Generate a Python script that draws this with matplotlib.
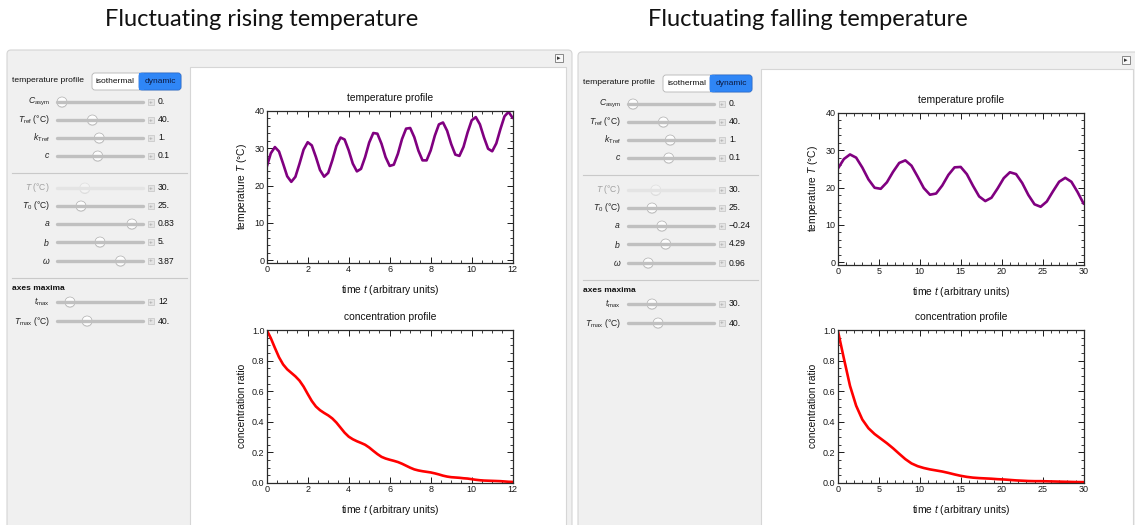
import numpy as np
import matplotlib
matplotlib.use("Agg")
import matplotlib.pyplot as plt
from matplotlib.patches import FancyBboxPatch, Rectangle, Circle
from matplotlib.ticker import MultipleLocator

W, H = 1135, 525

plt.rcParams["font.family"] = ["Liberation Sans", "DejaVu Sans"]
plt.rcParams["mathtext.fontset"] = "custom"
plt.rcParams["mathtext.rm"] = "Liberation Sans"
plt.rcParams["mathtext.it"] = "Liberation Sans:italic"
plt.rcParams["mathtext.bf"] = "Liberation Sans:bold"

# ---- data ----
panel_titles = ["Fluctuating rising temperature", "Fluctuating falling temperature"]

# rising case: t = 0 ... 12, step 0.2
t_rise = np.linspace(0, 12, 61)
temp_rise = [25.0, 28.66, 30.33, 29.15, 25.89, 22.50, 21.01, 22.36, 25.87, 29.65,
             31.63, 30.78, 27.67, 24.18, 22.39, 23.41, 26.75, 30.61, 32.88, 32.36,
             29.45, 25.89, 23.81, 24.49, 27.63, 31.55, 34.10, 33.92, 31.22, 27.62,
             25.27, 25.61, 28.53, 32.47, 35.27, 35.44, 32.97, 29.37, 26.77, 26.76,
             29.44, 33.37, 36.41, 36.92, 34.71, 31.13, 28.31, 27.96, 30.37, 34.26,
             37.51, 38.36, 36.42, 32.90, 29.88, 29.20, 31.32, 35.14, 38.58, 39.76, 38.12]
conc_rise = [1.0, 0.947, 0.883, 0.822, 0.775, 0.743, 0.720, 0.697, 0.669, 0.630,
             0.582, 0.536, 0.500, 0.476, 0.458, 0.442, 0.422, 0.395, 0.362, 0.329,
             0.303, 0.286, 0.273, 0.262, 0.250, 0.232, 0.210, 0.189, 0.171, 0.160,
             0.152, 0.145, 0.137, 0.126, 0.113, 0.100, 0.089, 0.082, 0.077, 0.073,
             0.069, 0.063, 0.056, 0.048, 0.042, 0.038, 0.036, 0.034, 0.031, 0.029,
             0.025, 0.021, 0.018, 0.016, 0.015, 0.014, 0.013, 0.012, 0.010, 0.008, 0.007]

# falling case: t = 0 ... 30, step 0.75
t_fall = np.linspace(0, 30, 41)
temp_fall = [25.0, 27.65, 28.89, 28.03, 25.39, 22.20, 19.96, 19.68, 21.42, 24.22,
             26.61, 27.30, 25.87, 22.94, 19.87, 18.09, 18.41, 20.56, 23.41, 25.43,
             25.54, 23.60, 20.48, 17.63, 16.39, 17.28, 19.77, 22.53, 24.11, 23.62,
             21.24, 18.03, 15.52, 14.86, 16.27, 18.99, 21.56, 22.62, 21.56, 18.81, 15.65]
conc_fall = [1.0, 0.815, 0.635, 0.505, 0.415, 0.358, 0.320, 0.290, 0.260, 0.227,
             0.191, 0.156, 0.128, 0.110, 0.098, 0.089, 0.082, 0.075, 0.066, 0.056,
             0.047, 0.040, 0.035, 0.032, 0.030, 0.028, 0.025, 0.023, 0.020, 0.017,
             0.015, 0.013, 0.012, 0.012, 0.011, 0.010, 0.009, 0.008, 0.007, 0.006, 0.006]

ctrl_labels = [r"$C_{\rm asym}$", r"$T_{\rm ref}$ (°C)", r"$k_{\rm Tref}$", r"$c$",
               r"$T$ (°C)", r"$T_0$ (°C)", r"$a$", r"$b$", r"$\omega$",
               r"$t_{\rm max}$", r"$T_{\rm max}$ (°C)"]
ctrl_values_rise = ["0.", "40.", "1.", "0.1", "30.", "25.", "0.83", "5.", "3.87", "12", "40."]
ctrl_values_fall = ["0.", "40.", "1.", "0.1", "30.", "25.", "\u22120.24", "4.29", "0.96", "30.", "40."]
slider_rise = [0.0, 0.40, 0.49, 0.47, 0.30, 0.25, 0.92, 0.50, 0.77, 0.105, 0.33]
slider_fall = [0.0, 0.40, 0.49, 0.47, 0.30, 0.25, 0.38, 0.43, 0.20, 0.25, 0.33]

# ---- layout (pixels) ----
row_y = [52, 70, 88, 106, 138, 156, 174, 192, 211, 252, 271]
TXT = "#111111"


def frac(x, y, w, h):
    return [x / W, 1 - (y + h) / H, w / W, h / H]


def style_axes(ax, xmax, xmajor, xminor, ylim, ymajor, yminor, yfmt):
    ax.set_xlim(0, xmax)
    ax.set_ylim(*ylim)
    ax.xaxis.set_major_locator(MultipleLocator(xmajor))
    ax.xaxis.set_minor_locator(MultipleLocator(xminor))
    ax.yaxis.set_major_locator(MultipleLocator(ymajor))
    ax.yaxis.set_minor_locator(MultipleLocator(yminor))
    ax.yaxis.set_major_formatter(yfmt)
    ax.tick_params(which="both", direction="in", top=True, right=True,
                   labelsize=6.5, colors="#1a1a1a", pad=1.5)
    ax.tick_params(which="major", length=4, width=0.7)
    ax.tick_params(which="minor", length=2, width=0.6)
    for s in ax.spines.values():
        s.set_linewidth(0.9)
        s.set_color("#2a2a2a")


fig = plt.figure(figsize=(W / 100, H / 100), dpi=100)
ov = fig.add_axes([0, 0, 1, 1])
ov.set_xlim(0, W)
ov.set_ylim(H, 0)
ov.axis("off")


def draw_panel(x0, y0, pw, title, title_cx, values, sliders, t, temp, conc, tmax, tmajor, tminor):
    ov.add_patch(FancyBboxPatch((x0, y0), pw, 500, boxstyle="round,pad=0,rounding_size=4",
                                fc="#f0f0f0", ec="#d4d4d4", lw=0.8))
    ov.add_patch(Rectangle((x0 + 183, y0 + 17), pw - 189, 480, fc="white", ec="#d6d6d6", lw=0.8))
    # little options button
    ov.add_patch(Rectangle((x0 + pw - 17, y0 + 4), 8, 8, fc="#f8f8f8", ec="#777777", lw=0.6))
    ov.text(x0 + pw - 13, y0 + 8.3, "\u25b8", fontsize=5, ha="center", va="center",
            color="#333333", family="DejaVu Sans")

    ov.text(title_cx, 20, title, fontsize=17, family="Lato", ha="center", va="center", color=TXT)

    # temperature profile toggle
    ov.text(x0 + 5, y0 + 30, "temperature profile", fontsize=6.1, ha="left", va="center", color=TXT)
    ov.add_patch(FancyBboxPatch((x0 + 85, y0 + 23), 89, 17, boxstyle="round,pad=0,rounding_size=3",
                                fc="white", ec="#b5b5b5", lw=0.6))
    ov.add_patch(FancyBboxPatch((x0 + 132, y0 + 23), 42, 17, boxstyle="round,pad=0,rounding_size=3",
                                fc="#2f86f6", ec="#2a6fd6", lw=0.6))
    ov.add_patch(Rectangle((x0 + 132, y0 + 23.3), 5, 16.4, fc="#2f86f6", ec="none"))
    ov.text(x0 + 108.5, y0 + 31.5, "isothermal", fontsize=6.0, ha="center", va="center", color=TXT)
    ov.text(x0 + 153, y0 + 31.5, "dynamic", fontsize=6.0, ha="center", va="center", color="#0d1a40")

    # separators
    for sy in (y0 + 123, y0 + 228):
        ov.plot([x0 + 5, x0 + 180], [sy, sy], color="#c9c9c9", lw=0.8)
    ov.text(x0 + 5, y0 + 238, "axes maxima", fontsize=6.0, fontweight="bold", ha="left", va="center",
            color=TXT)

    for i, (lab, val, f) in enumerate(zip(ctrl_labels, values, sliders)):
        ry = y0 + row_y[i]
        faded = i == 4
        tc = "#a0a0a0" if faded else "#222222"
        ov.text(x0 + 43, ry, lab, fontsize=6.2, ha="right", va="center", color=tc)
        ov.plot([x0 + 50, x0 + 136], [ry, ry], color="#e4e4e4" if faded else "#c0c0c0",
                lw=2.4, solid_capstyle="round")
        cx = x0 + 55 + f * 76
        ov.add_patch(Circle((cx, ry + 0.6), 5.4, fc="#d0d0d0", ec="none", alpha=0.6))
        ov.add_patch(Circle((cx, ry), 5, fc="#fdfdfd" if not faded else "#f4f4f4",
                            ec="#e0e0e0" if faded else "#b0b0b0", lw=0.5))
        ov.add_patch(Rectangle((x0 + 140.5, ry - 3), 6, 6, fc="#e4e4e4", ec="#c4c4c4", lw=0.5))
        ov.text(x0 + 143.5, ry, "+", fontsize=4.5, ha="center", va="center", color="#9a9a9a")
        ov.text(x0 + 151, ry, val, fontsize=6.2, ha="left", va="center", color=TXT)

    # plots
    ax_l = x0 + 259.7
    ax_w = 246
    ax_t = fig.add_axes(frac(ax_l, y0 + 61, ax_w, 152))
    ax_t.plot(t, temp, color="#800080", lw=1.9, solid_joinstyle="round", solid_capstyle="round")
    style_axes(ax_t, tmax, tmajor, tminor, (-0.75, 40), 10, 2, "{x:.0f}")
    ax_c = fig.add_axes(frac(ax_l, 330, ax_w, 153))
    ax_c.plot(t, conc, color="#ff0000", lw=1.9, solid_joinstyle="round", solid_capstyle="round")
    style_axes(ax_c, tmax, tmajor, tminor, (0, 1), 0.2, 0.05, "{x:.1f}")

    cx = ax_l + ax_w / 2
    ov.text(cx, y0 + 48, "temperature profile", fontsize=7.4, ha="center", va="center", color=TXT)
    ov.text(cx, y0 + 240, "time $t$ (arbitrary units)", fontsize=7.4, ha="center", va="center",
            color=TXT)
    ov.text(ax_l - 25, y0 + 137, "temperature $T$ (°C)", fontsize=7.4, ha="center", va="center",
            rotation=90, color=TXT)
    ov.text(cx, 317, "concentration profile", fontsize=7.4, ha="center", va="center", color=TXT)
    ov.text(cx, 510, "time $t$ (arbitrary units)", fontsize=7.4, ha="center", va="center",
            color=TXT)
    ov.text(ax_l - 25, 406, "concentration ratio", fontsize=7.4, ha="center", va="center",
            rotation=90, color=TXT)


draw_panel(7, 50, 565, panel_titles[0], 262, ctrl_values_rise, slider_rise,
           t_rise, temp_rise, conc_rise, 12, 2, 0.5)
draw_panel(578, 52, 561, panel_titles[1], 808, ctrl_values_fall, slider_fall,
           t_fall, temp_fall, conc_fall, 30, 5, 1)

fig.savefig("out.png", dpi=100)
